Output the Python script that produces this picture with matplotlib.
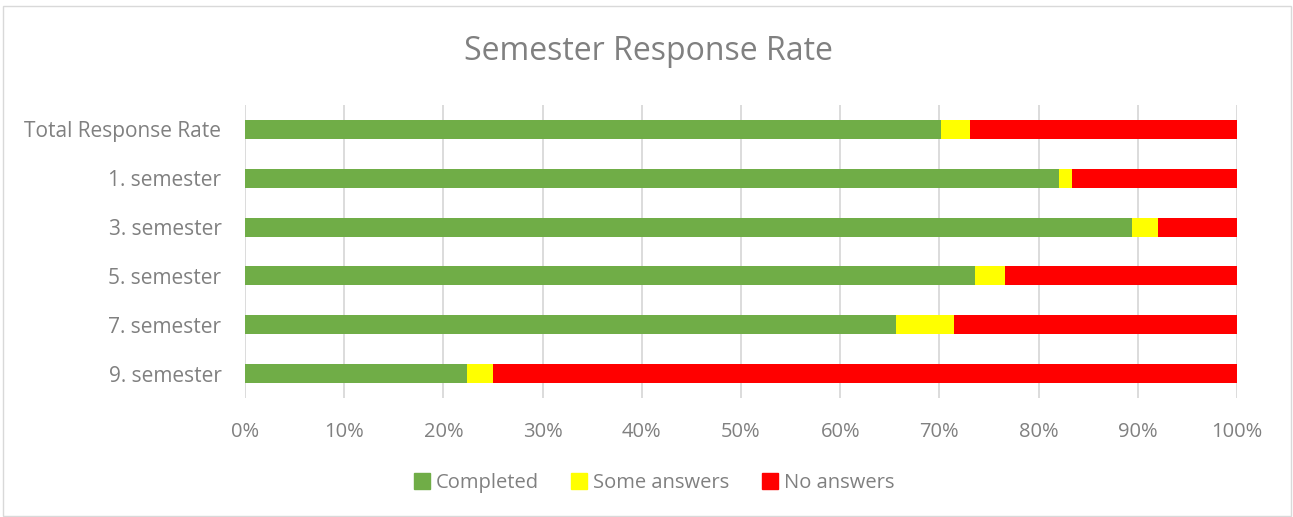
import numpy as np
import matplotlib
matplotlib.use("Agg")
import matplotlib.pyplot as plt
from matplotlib.patches import Rectangle

# data (percent)
categories = ["Total Response Rate", "1. semester", "3. semester",
              "5. semester", "7. semester", "9. semester"]
completed = [70.2, 82.1, 89.4, 73.6, 65.6, 22.4]
some_answers = [2.9, 1.3, 2.6, 3.0, 5.9, 2.6]
no_answers = [100 - c - s for c, s in zip(completed, some_answers)]
series_names = ["Completed", "Some answers", "No answers"]
colors = ["#70AD47", "#FFFF00", "#FF0000"]
xticks = np.arange(0, 101, 10)

txt = "#808080"
plt.rcParams['font.family'] = ['Open Sans', 'DejaVu Sans']

fig = plt.figure(figsize=(12.93, 5.17), dpi=100)
ax = fig.add_axes([245/1293, 1 - 398/517, (1237-245)/1293, (398-105)/517])

y = np.arange(len(categories))
left = np.zeros(len(categories))
for vals, name, col in zip([completed, some_answers, no_answers], series_names, colors):
	ax.barh(y, vals, left=left, height=0.39, color=col, label=name, zorder=2)
	left += np.array(vals)

ax.set_xlim(0, 100)
ax.set_ylim(len(categories) - 0.5, -0.5)
ax.set_xticks(xticks)
ax.set_xticklabels([f"{t}%" for t in xticks])
ax.set_yticks(y)
ax.set_yticklabels(categories)
ax.tick_params(axis='both', length=0, colors=txt)
ax.tick_params(axis='x', pad=17, labelsize=14.5)
ax.tick_params(axis='y', pad=17, labelsize=15)
ax.grid(axis='x', color='#D9D9D9', linewidth=1.3, zorder=0)
for s in ax.spines.values():
	s.set_visible(False)

fig.text(648/1293, 1 - 51/517, "Semester Response Rate", ha='center', va='center',
	fontsize=23, color=txt)

handles = [Rectangle((0, 0), 1, 1, color=c) for c in colors]
fig.legend(handles, series_names, loc='center', bbox_to_anchor=(654/1293, 1 - 483/517),
	ncol=3, frameon=False, fontsize=14.5, labelcolor=txt, handlelength=0.8,
	handleheight=0.8, handletextpad=0.3, columnspacing=1.6)

# light frame around the chart area
fig.patches.append(Rectangle((3/1293, 1/517), 1288/1293, 510/517, transform=fig.transFigure,
	fill=False, edgecolor='#D9D9D9', linewidth=1))

fig.savefig("out.png", dpi=100)
